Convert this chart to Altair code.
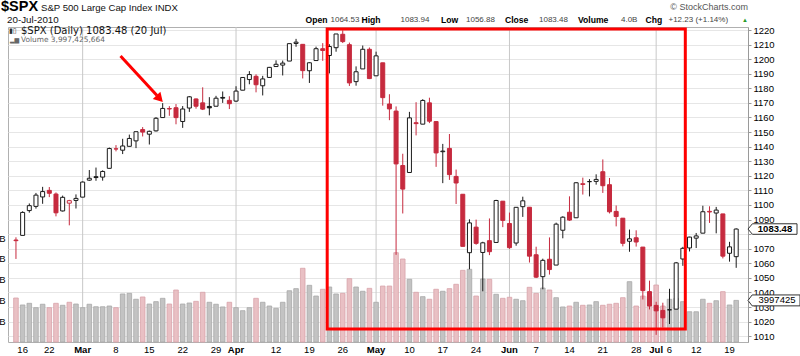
import altair as alt
import pandas as pd

# ---------------- data ----------------
PREV_CLOSE = 1078.47  # close before the first visible bar

opens = [1075.95, 1079.13, 1096.14, 1099.03, 1105.49, 1110.00, 1107.49, 1095.89, 1101.24, 1103.10,
         1105.36, 1117.01, 1119.36, 1119.12, 1125.12, 1138.40, 1137.56, 1140.22, 1143.96, 1151.71,
         1148.53, 1150.83, 1159.94, 1166.13, 1166.68, 1157.25, 1166.47, 1172.70, 1170.03, 1167.58,
         1167.71, 1173.75, 1171.75, 1171.23, 1178.71, 1186.01, 1188.23, 1181.75, 1187.47, 1194.94,
         1195.94, 1198.69, 1210.77, 1210.17, 1192.06, 1199.04, 1207.16, 1202.52, 1207.87, 1217.07,
         1209.92, 1184.59, 1193.30, 1206.77, 1188.58, 1197.50, 1169.24, 1164.38, 1127.04, 1122.27,
         1156.39, 1155.43, 1170.04, 1157.19, 1136.52, 1138.78, 1119.57, 1107.34, 1067.26, 1084.78,
         1067.42, 1075.51, 1074.27, 1102.59, 1087.30, 1073.89, 1098.82, 1098.43, 1065.84, 1050.81,
         1062.75, 1058.77, 1082.65, 1095.00, 1091.21, 1114.02, 1115.98, 1116.16, 1122.79, 1113.90,
         1095.57, 1090.93, 1075.10, 1077.50, 1071.10, 1040.56, 1031.10, 1027.65, 1028.09, 1028.54,
         1062.92, 1070.50, 1077.23, 1080.65, 1095.61, 1094.46, 1093.85, 1066.85, 1064.53]

highs = [1077.81, 1095.67, 1101.03, 1108.24, 1112.42, 1112.29, 1108.58, 1106.42, 1103.50, 1107.24,
         1116.11, 1123.96, 1125.64, 1123.73, 1139.38, 1141.05, 1145.37, 1148.26, 1150.24, 1153.41,
         1150.98, 1160.28, 1169.84, 1167.77, 1169.20, 1167.82, 1174.72, 1173.04, 1180.69, 1173.93,
         1174.85, 1177.83, 1174.56, 1181.43, 1187.73, 1191.80, 1189.60, 1188.55, 1194.66, 1199.20,
         1199.04, 1210.65, 1213.92, 1210.17, 1197.87, 1208.58, 1210.99, 1210.27, 1217.28, 1219.80,
         1211.38, 1195.05, 1209.36, 1207.99, 1205.13, 1197.50, 1175.95, 1167.58, 1135.13, 1163.85,
         1170.48, 1172.53, 1173.57, 1157.19, 1141.88, 1148.66, 1124.27, 1107.34, 1090.16, 1089.95,
         1074.75, 1090.75, 1103.52, 1102.59, 1094.77, 1098.56, 1105.67, 1098.43, 1071.36, 1063.15,
         1077.74, 1087.85, 1092.25, 1105.91, 1115.59, 1118.74, 1117.72, 1121.01, 1131.23, 1118.50,
         1099.64, 1090.93, 1083.11, 1082.60, 1071.10, 1048.08, 1033.58, 1032.95, 1042.50, 1060.89,
         1071.25, 1078.16, 1080.78, 1099.46, 1099.08, 1098.66, 1093.85, 1074.70, 1083.94]

lows = [1062.97, 1079.13, 1094.72, 1097.48, 1100.80, 1105.38, 1092.18, 1095.50, 1086.02, 1097.56,
        1105.36, 1116.51, 1116.58, 1116.66, 1125.12, 1136.77, 1134.90, 1140.09, 1138.99, 1146.97,
        1141.45, 1150.35, 1159.94, 1161.16, 1155.33, 1152.88, 1163.83, 1166.01, 1165.09, 1161.48,
        1167.71, 1170.00, 1165.77, 1170.69, 1178.71, 1182.77, 1177.25, 1175.12, 1187.15, 1194.71,
        1188.82, 1198.69, 1208.50, 1186.77, 1183.68, 1199.04, 1198.85, 1190.19, 1205.10, 1211.07,
        1181.62, 1181.81, 1193.30, 1186.32, 1188.58, 1168.12, 1158.15, 1065.79, 1094.15, 1122.27,
        1147.71, 1155.43, 1156.14, 1126.14, 1114.96, 1117.20, 1100.66, 1071.58, 1055.90, 1072.70,
        1040.78, 1065.59, 1074.27, 1084.78, 1069.89, 1072.03, 1091.81, 1060.50, 1049.86, 1042.17,
        1052.25, 1058.77, 1077.12, 1089.03, 1091.21, 1107.13, 1105.87, 1113.93, 1108.24, 1094.18,
        1085.31, 1071.60, 1067.89, 1071.45, 1035.18, 1028.33, 1010.91, 1015.93, 1018.35, 1028.54,
        1058.24, 1068.10, 1070.45, 1080.65, 1087.68, 1080.53, 1063.32, 1061.11, 1056.88]

closes = [1075.51, 1094.87, 1099.51, 1106.75, 1109.17, 1108.01, 1094.60, 1105.24, 1102.94, 1104.49,
          1115.71, 1118.31, 1118.79, 1122.97, 1138.70, 1138.50, 1140.45, 1145.61, 1150.24, 1149.99,
          1150.51, 1159.46, 1166.21, 1165.83, 1159.90, 1165.81, 1174.17, 1167.72, 1165.73, 1166.59,
          1173.22, 1173.27, 1169.43, 1178.10, 1187.44, 1189.44, 1182.45, 1186.44, 1194.37, 1196.48,
          1197.30, 1210.65, 1211.67, 1192.13, 1197.52, 1207.17, 1205.94, 1208.67, 1217.28, 1212.05,
          1183.71, 1191.36, 1206.78, 1186.69, 1202.26, 1173.60, 1165.87, 1128.15, 1110.88, 1159.73,
          1155.79, 1171.67, 1157.44, 1135.68, 1136.94, 1120.80, 1115.05, 1071.59, 1087.69, 1073.65,
          1074.03, 1067.95, 1103.06, 1089.41, 1070.71, 1098.38, 1102.83, 1064.88, 1050.47, 1062.00,
          1055.69, 1086.84, 1091.60, 1089.63, 1115.23, 1114.61, 1116.04, 1117.51, 1113.20, 1095.31,
          1092.04, 1073.69, 1076.76, 1074.57, 1041.24, 1030.71, 1027.37, 1022.58, 1028.06, 1060.27,
          1070.25, 1077.96, 1078.75, 1095.34, 1095.17, 1096.48, 1064.88, 1071.25, 1083.48]

# volume in billions of shares
volumes = [4.23, 3.56, 3.72, 3.30, 3.63, 3.30, 3.72, 3.53, 3.82, 3.65,
           3.30, 3.63, 3.39, 3.39, 3.46, 3.30, 4.62, 4.68, 4.11, 4.33,
           3.65, 3.88, 4.20, 3.65, 5.00, 3.65, 3.75, 3.91, 4.78, 3.82,
           3.63, 3.37, 3.82, 3.30, 3.01, 3.30, 4.20, 3.82, 3.46, 3.24,
           3.82, 4.93, 5.13, 7.09, 5.45, 4.42, 5.07, 5.29, 4.62, 4.68,
           6.09, 5.29, 4.88, 5.16, 3.82, 5.38, 5.38, 8.59, 7.98, 6.03,
           4.78, 4.36, 4.11, 5.07, 4.88, 5.13, 5.55, 6.89, 6.99, 4.42,
           6.06, 6.03, 4.59, 4.20, 4.30, 4.11, 3.97, 5.26, 4.68, 5.19,
           5.00, 4.26, 3.37, 3.46, 3.82, 3.53, 3.56, 3.88, 3.53, 3.63,
           3.72, 4.26, 5.80, 3.46, 4.42, 4.39, 5.48, 3.46, 4.11, 4.20,
           3.88, 2.91, 2.91, 4.11, 3.72, 3.97, 4.84, 3.56, 4.00]

# x-axis ticks (trading-day index -> label)
tick_index = [1, 5, 10, 15, 20, 25, 30, 33, 39, 44, 49, 54, 59, 64, 69, 74, 78, 83, 88, 93, 96, 98, 102, 107]
tick_labels = ["16", "22", "Mar", "8", "15", "22", "29", "Apr", "12", "19", "26", "May",
               "10", "17", "24", "Jun", "7", "14", "21", "28", "Jul", "6", "12", "19"]
month_labels = ["Mar", "Apr", "May", "Jun", "Jul"]
price_ticks = list(range(1010, 1221, 10))
hidden_price_label = 1080  # covered by the last-price tag
vol_ticks = [2, 4, 6, 8, 10]

last_close = 1083.48
last_volume = 4.00
last_volume_text = "3997425"

# annotation (in data coordinates)
box_x = [46.67, 100.37]
box_y = [1014.9, 1220.7]
arrow_x = [15.68, 21.15]
arrow_y = [1202.2, 1175.1]
arrow_tip = (21.55, 1172.9)

# ---------------- build tables ----------------
RED = "#c62a3e"
BLK = "#1a1a1a"
prev = [PREV_CLOSE] + closes[:-1]
rows = []
for i in range(len(closes)):
    up = closes[i] >= prev[i]
    col = BLK if up else RED
    rows.append(dict(
        i=i, o=opens[i], h=highs[i], l=lows[i], c=closes[i], v=volumes[i],
        col=col,
        fill="#ffffff" if closes[i] > opens[i] else col,
        vfill="#c3c3c3" if up else "#e9c0c4",
        vstroke="#a8a8a8" if up else "#d8a2a9",
    ))
df = pd.DataFrame(rows)

ticks_df = pd.DataFrame({"i": tick_index, "lab": tick_labels})
ticks_df["month"] = ticks_df["lab"].isin(month_labels)
day_ticks = ticks_df[~ticks_df["month"]]
mon_ticks = ticks_df[ticks_df["month"]]

xs = alt.Scale(domain=[-0.444, 109.02], nice=False, zero=False)
ps = alt.Scale(domain=[1006.0, 1222.06], nice=False, zero=False)
vs = alt.Scale(domain=[0, 30.29], nice=False, zero=False)

H = 315  # plot height in px
x_axis = alt.Axis(values=tick_index, labels=False, title=None, grid=True, gridColor="#e6e6e6",
                  tickSize=3, tickColor="#999", domain=False)
price_axis = alt.Axis(orient="right", values=price_ticks, format="d",
                      labelExpr=f"datum.value == {hidden_price_label} ? '' : datum.label",
                      title=None, grid=True, gridColor="#e6e6e6", zindex=0,
                      labelFontSize=9.5, labelFont="Liberation Sans", labelColor="#000",
                      tickSize=3, tickColor="#999", domainColor="#9a9a9a", labelPadding=2)
vol_axis = alt.Axis(orient="left", values=vol_ticks, labelExpr="datum.value + 'B'", title=None,
                    grid=False, ticks=False, domain=False, labelPadding=3,
                    labelFontSize=9.5, labelFont="Liberation Sans", labelColor="#000")

base = alt.Chart(df)
XN = dict(scale=xs, axis=None)

month_rules = alt.Chart(mon_ticks).mark_rule(color="#c8c8c8", strokeWidth=1).encode(
    x=alt.X("i:Q", **XN), y=alt.value(0), y2=alt.value(H))

vol_bars = base.mark_bar(size=4.6, strokeWidth=0.8).encode(
    x=alt.X("i:Q", scale=xs, axis=x_axis),
    y=alt.Y("v:Q", scale=vs, axis=vol_axis),
    fill=alt.Fill("vfill:N", scale=None),
    stroke=alt.Stroke("vstroke:N", scale=None),
)

vol_tag_df = pd.DataFrame({"v": [last_volume], "t": [last_volume_text]})
vol_tag = alt.Chart(vol_tag_df).mark_point(
    shape="M -1 0 L -0.84 -0.21 L 1 -0.21 L 1 0.21 L -0.84 0.21 Z",
    size=2704, filled=True, fill="#ffffff", stroke="#333", strokeWidth=1, opacity=1,
).encode(x=alt.value(766), y=alt.Y("v:Q", scale=vs, axis=None))
vol_tag_txt = alt.Chart(vol_tag_df).mark_text(
    font="Liberation Sans", fontSize=9.5, color="#000", align="center", baseline="middle",
).encode(x=alt.value(769), y=alt.Y("v:Q", scale=vs, axis=None), text="t:N")

wicks = base.mark_rule(strokeWidth=1).encode(
    x=alt.X("i:Q", **XN),
    y=alt.Y("l:Q", scale=ps, axis=price_axis),
    y2="h:Q",
    color=alt.Color("col:N", scale=None),
)
bodies = base.mark_bar(size=4, strokeWidth=1).encode(
    x=alt.X("i:Q", **XN),
    y=alt.Y("o:Q", scale=ps, axis=None),
    y2="c:Q",
    fill=alt.Fill("fill:N", scale=None),
    stroke=alt.Stroke("col:N", scale=None),
)

box_df = pd.DataFrame({"x1": [box_x[0]], "x2": [box_x[1]], "y1": [box_y[0]], "y2": [box_y[1]]})
box = alt.Chart(box_df).mark_rect(fillOpacity=0, stroke="#ff0000", strokeWidth=3).encode(
    x=alt.X("x1:Q", **XN), x2="x2:Q",
    y=alt.Y("y1:Q", scale=ps, axis=None), y2="y2:Q",
)
arrow_df = pd.DataFrame({"ax": arrow_x, "ay": arrow_y})
arrow_line = alt.Chart(arrow_df).mark_line(color="#ff0000", strokeWidth=3).encode(
    x=alt.X("ax:Q", **XN), y=alt.Y("ay:Q", scale=ps, axis=None),
)
tip_df = pd.DataFrame({"tx": [arrow_tip[0]], "ty": [arrow_tip[1]]})
arrow_head = alt.Chart(tip_df).mark_point(
    shape="triangle-right", angle=47, size=110, filled=True, color="#ff0000", opacity=1,
).encode(x=alt.X("tx:Q", **XN), y=alt.Y("ty:Q", scale=ps, axis=None))

tag_df = pd.DataFrame({"p": [last_close], "t": [f"{last_close:.2f}"]})
price_tag = alt.Chart(tag_df).mark_point(
    shape="M -1 0 L -0.82 -0.215 L 1 -0.215 L 1 0.215 L -0.82 0.215 Z",
    size=2401, filled=True, fill="#ffffff", stroke="#333", strokeWidth=1, opacity=1,
).encode(x=alt.value(764.5), y=alt.Y("p:Q", scale=ps, axis=None))
price_tag_txt = alt.Chart(tag_df).mark_text(
    font="Liberation Sans", fontSize=9.5, fontWeight="bold", color="#000",
    align="center", baseline="middle",
).encode(x=alt.value(767), y=alt.Y("p:Q", scale=ps, axis=None), text="t:N")

# date labels under the plot
day_text = alt.Chart(day_ticks).mark_text(
    font="Liberation Sans", fontSize=9.5, color="#000", align="center", baseline="middle",
).encode(x=alt.X("i:Q", **XN), y=alt.value(H + 7.5), text="lab:N")
mon_text = alt.Chart(mon_ticks).mark_text(
    font="Liberation Sans", fontSize=9.5, fontWeight="bold", color="#000", align="center",
    baseline="middle",
).encode(x=alt.X("i:Q", **XN), y=alt.value(H + 7.5), text="lab:N")

# header / legend texts (positions relative to the plot area's top-left corner)
one = pd.DataFrame({"k": [0]})
OX, OY = 8, 27


def label(s, x, y, size=9, weight="normal", color="#000", align="left", font="Liberation Sans"):
    return alt.Chart(one).mark_text(
        text=s, align=align, baseline="middle", fontSize=size, fontWeight=weight,
        color=color, font=font,
    ).encode(x=alt.value(x - OX), y=alt.value(y - OY))


texts = [
    label("$SPX", 1, 7, size=14.5, weight="bold"),
    label("S&P 500 Large Cap Index  INDX", 41, 7.5, size=9.6, color="#111"),
    label("20-Jul-2010", 7, 19.5, size=9.8, color="#111"),
    label("© StockCharts.com", 748, 7, size=9, color="#555", align="right"),
    label("Open", 305.5, 19.5, size=8.6, weight="bold"),
    label("1064.53", 330.5, 19.5, size=8, color="#444"),
    label("High", 361.5, 19.5, size=8.6, weight="bold"),
    label("1083.94", 400.5, 19.5, size=8, color="#444"),
    label("Low", 441, 19.5, size=8.6, weight="bold"),
    label("1056.88", 466, 19.5, size=8, color="#444"),
    label("Close", 505, 19.5, size=8.6, weight="bold"),
    label("1083.48", 539, 19.5, size=8, color="#444"),
    label("Volume", 578, 19.5, size=8.6, weight="bold"),
    label("4.0B", 621, 19.5, size=8, color="#444"),
    label("Chg", 645.5, 19.5, size=8.6, weight="bold"),
    label("+12.23 (+1.14%)", 668.5, 19.5, size=8, color="#444"),
    label("▲", 742, 19.5, size=6, color="#2a9a2a"),
    label("$SPX (Daily) 1083.48 (20 Jul)", 21, 31, size=10, font="DejaVu Sans", color="#111"),
    label("Volume 3,997,425,664", 21, 39.7, size=7.4, font="DejaVu Sans", color="#666"),
    label("▮▯", 9, 30.5, size=7, font="DejaVu Sans", color="#333"),
    label("▂▆", 10, 39.5, size=6, font="DejaVu Sans", color="#666"),
]

layers = [month_rules, vol_bars, vol_tag, vol_tag_txt, wicks, bodies, box, arrow_line, arrow_head,
          price_tag, price_tag_txt, day_text, mon_text] + texts

chart = alt.layer(*layers).resolve_scale(y="independent").properties(
    width=740, height=H,
    autosize=alt.AutoSizeParams(type="none"),
    padding={"left": 8, "top": 27, "right": 52, "bottom": 14},
    background="#ffffff",
).configure_view(stroke="#b0b0b0", strokeWidth=1)

chart.save("out.html", embed_options={"renderer": "svg", "actions": False})
